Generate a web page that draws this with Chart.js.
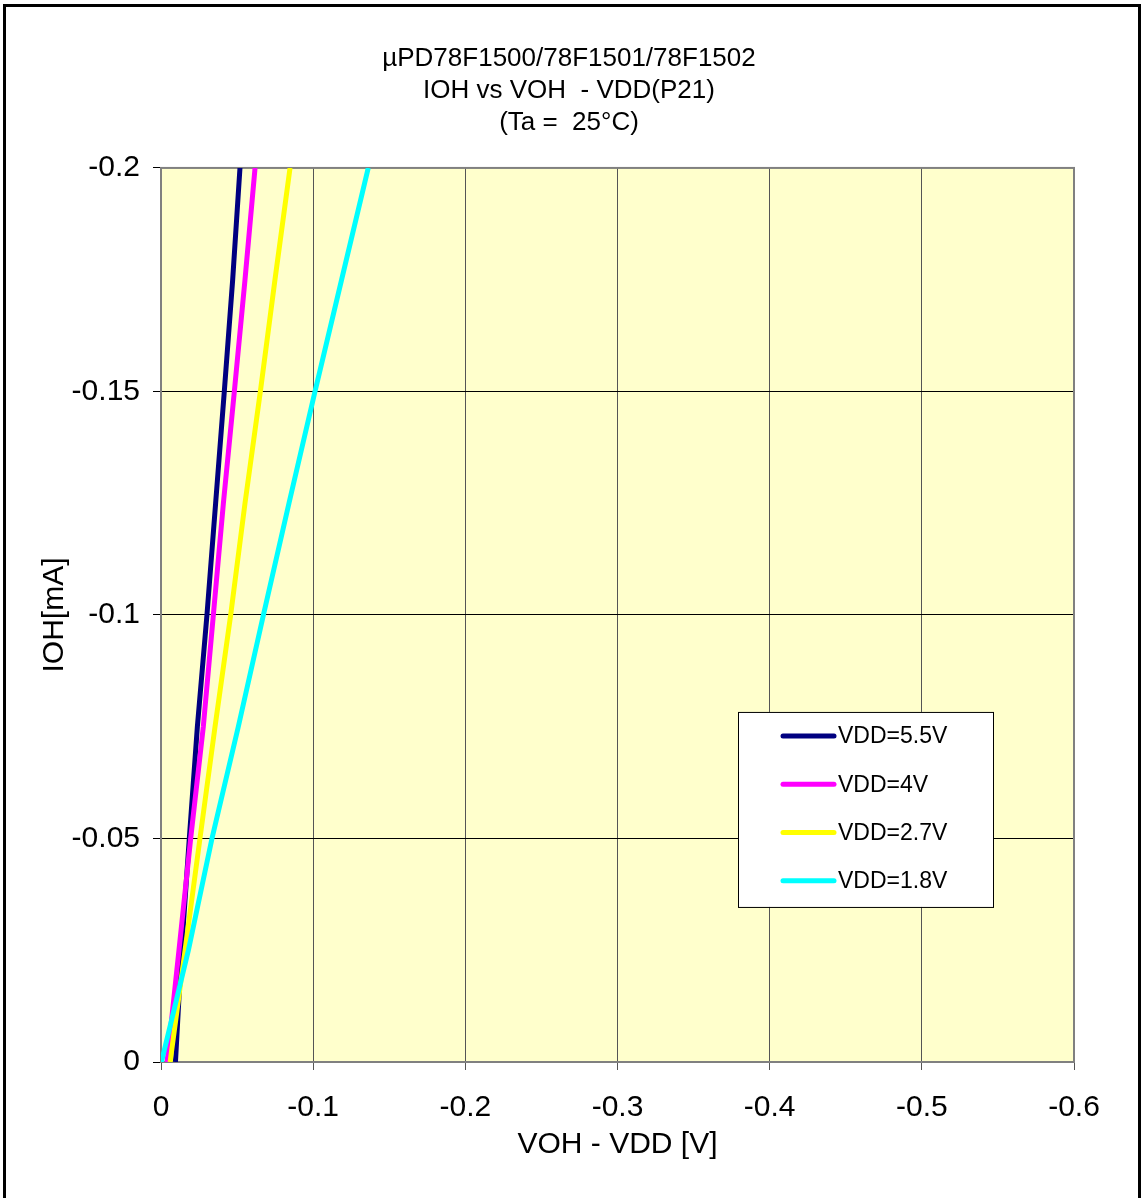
<!DOCTYPE html>
<html>
<head>
<meta charset="utf-8">
<script src="https://cdn.jsdelivr.net/npm/chart.js@4.4.1/dist/chart.umd.min.js"></script>
<style>
  body { margin: 0; background: #fff; }
  #wrap { position: absolute; left: 0; top: 0; width: 1143px; height: 1198px; }
  #frame { position: absolute; left: 3px; top: 4px; width: 1138px; height: 1300px;
           border: 3px solid #000; box-sizing: border-box; pointer-events: none; }
</style>
</head>
<body>
<div id="wrap"><canvas id="chart1"></canvas></div>
<div id="frame"></div>
<script>
// IOH steps (mA) shared by all curves
var currents = [0, -0.025, -0.05, -0.075, -0.1, -0.125, -0.15, -0.175, -0.2];
// VOH - VDD (V), one array per supply
var vdd55 = [-0.0095, -0.0135, -0.0186, -0.0239, -0.0302, -0.0359, -0.0416, -0.0471, -0.0519];
var vdd4  = [-0.0040, -0.0118, -0.0195, -0.0278, -0.0344, -0.0410, -0.0482, -0.0552, -0.0618];
var vdd27 = [-0.0060, -0.0158, -0.0256, -0.0355, -0.0458, -0.0552, -0.0653, -0.0749, -0.0848];
var vdd18 = [-0.0003, -0.0180, -0.0335, -0.0508, -0.0673, -0.0841, -0.1012, -0.1187, -0.1362];
var seriesNames = ["VDD=5.5V", "VDD=4V", "VDD=2.7V", "VDD=1.8V"];
var seriesColors = ["#000080", "#ff00ff", "#ffff00", "#00ffff"];
var titleLines = ["\u00b5PD78F1500/78F1501/78F1502", "IOH vs VOH  - VDD(P21)", "(Ta =  25\u00b0C)"];

function points(volts) {
    return volts.map(function (v, i) { return { x: v, y: currents[i] }; });
}

// 0.15 -> "-0.15", 0.2 -> "-0.2"
function tickText(value) {
    var n = Number(value.toFixed(2));
    return n === 0 ? "0" : String(n);
}

var allSeries = [vdd55, vdd4, vdd27, vdd18];
var datasets = allSeries.map(function (s, k) {
    return {
        label: seriesNames[k],
        data: points(s),
        borderColor: seriesColors[k],
        backgroundColor: seriesColors[k],
        borderWidth: 5,
        pointRadius: 0,
        tension: 0,
        clip: 0,
        order: 4 - k
    };
});

// yellow plot area + gray border
var plotBg = {
    id: 'plotBg',
    beforeDraw: function (chart) {
        var a = chart.chartArea, c = chart.ctx;
        c.save();
        c.fillStyle = '#ffffcc';
        c.fillRect(a.left, a.top, a.right - a.left, a.bottom - a.top);
        c.restore();
    },
    beforeDatasetsDraw: function (chart) {
        var a = chart.chartArea, c = chart.ctx;
        c.save();
        c.strokeStyle = '#808080';
        c.lineWidth = 2;
        c.strokeRect(a.left, a.top, a.right - a.left, a.bottom - a.top);
        c.restore();
    }
};

// legend box inside the plot, like the original
var boxLegend = {
    id: 'boxLegend',
    afterDraw: function (chart) {
        var a = chart.chartArea, c = chart.ctx;
        var left = a.left + 577, top = a.top + 544, w = 255, h = 195;
        c.save();
        c.fillStyle = '#fff';
        c.fillRect(left, top, w, h);
        c.strokeStyle = '#000';
        c.lineWidth = 1;
        c.strokeRect(left + 0.5, top + 0.5, w, h);
        c.font = '23px "Liberation Sans", Arial, sans-serif';
        c.textBaseline = 'middle';
        c.lineCap = 'round';
        chart.data.datasets.forEach(function (ds, i) {
            var y = top + 24 + i * 48.3;
            c.strokeStyle = ds.borderColor;
            c.lineWidth = 5;
            c.beginPath();
            c.moveTo(left + 45, y);
            c.lineTo(left + 96, y);
            c.stroke();
            c.fillStyle = '#000';
            c.fillText(ds.label, left + 100, y + 1);
        });
        c.restore();
    }
};

new Chart("chart1", {
    type: "line",
    data: { datasets: datasets },
    plugins: [plotBg, boxLegend],
    options: {
        responsive: true,
        maintainAspectRatio: false,
        animation: false,
        layout: { padding: { left: 64, right: 69, top: 0, bottom: 0 } },
        plugins: {
            legend: { display: false },
            tooltip: { enabled: false },
            title: {
                display: true,
                text: titleLines,
                color: '#000',
                font: { family: '"Liberation Sans", Arial, sans-serif', size: 26, weight: 'normal', lineHeight: 1.23 },
                padding: { top: 43, bottom: 29 }
            }
        },
        scales: {
            x: {
                type: 'linear',
                min: -0.6,
                max: 0,
                reverse: true,
                afterFit: function (scale) { scale.height = 136; },
                ticks: {
                    stepSize: 0.1,
                    color: '#000',
                    padding: 20,
                    maxRotation: 0,
                    callback: tickText,
                    font: { family: '"Liberation Sans", Arial, sans-serif', size: 30 }
                },
                grid: { color: '#555', lineWidth: 1, tickLength: 8 },
                border: { color: '#808080', width: 2 },
                title: {
                    display: true,
                    text: 'VOH - VDD [V]',
                    color: '#000',
                    padding: { top: 0, bottom: 35 },
                    font: { family: '"Liberation Sans", Arial, sans-serif', size: 30 }
                }
            },
            y: {
                type: 'linear',
                min: -0.2,
                max: 0,
                reverse: true,
                afterFit: function (scale) { scale.width = 97; },
                ticks: {
                    stepSize: 0.05,
                    color: '#000',
                    padding: 13,
                    callback: tickText,
                    font: { family: '"Liberation Sans", Arial, sans-serif', size: 30 }
                },
                grid: { color: '#000', lineWidth: 1, tickLength: 8 },
                border: { color: '#808080', width: 2 },
                title: {
                    display: true,
                    text: 'IOH[mA]',
                    color: '#000',
                    padding: { top: -27, bottom: 0 },
                    font: { family: '"Liberation Sans", Arial, sans-serif', size: 30 }
                }
            }
        }
    }
});
</script>
</body>
</html>
